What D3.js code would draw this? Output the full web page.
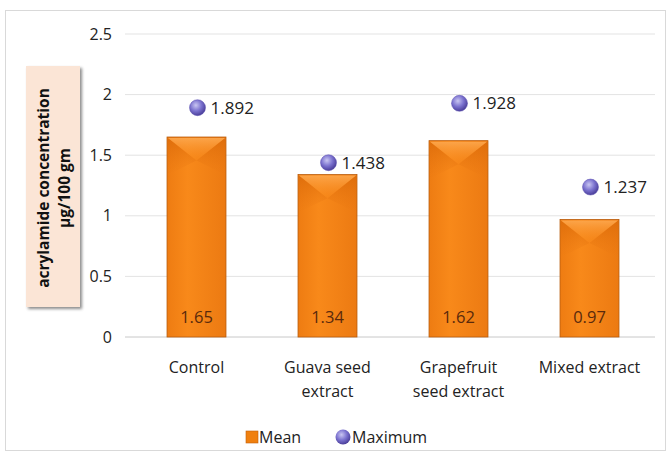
<!DOCTYPE html>
<html><head><meta charset="utf-8">
<script src="https://cdn.jsdelivr.net/npm/d3@7"></script>
<style>
body{margin:0;background:#fff;}
text{font-family:"Open Sans",sans-serif;}
</style></head>
<body><svg id="chart" width="671" height="456"></svg>
<script>
const categories = [["Control"], ["Guava seed", "extract"], ["Grapefruit", "seed extract"], ["Mixed extract"]];
const meanValues = [1.65, 1.34, 1.62, 0.97];
const maxValues = [1.892, 1.438, 1.928, 1.237];
const yTicks = [0, 0.5, 1, 1.5, 2, 2.5];
const seriesNames = ["Mean", "Maximum"];

const svg = d3.select("#chart");
const defs = svg.append("defs");

// bar fill: horizontal sheen
const g1 = defs.append("linearGradient").attr("id", "barGrad").attr("x1", 0).attr("x2", 1).attr("y1", 0).attr("y2", 0);
g1.append("stop").attr("offset", "0%").attr("stop-color", "#ee7c12");
g1.append("stop").attr("offset", "35%").attr("stop-color", "#f8891a");
g1.append("stop").attr("offset", "100%").attr("stop-color", "#ec7a12");

// bevel facets fade into the bar body
const topGrad = defs.append("linearGradient").attr("id", "topGrad").attr("x1", 0).attr("x2", 0).attr("y1", 0).attr("y2", 1);
topGrad.append("stop").attr("offset", "0%").attr("stop-color", "#fca64c").attr("stop-opacity", 0.95);
topGrad.append("stop").attr("offset", "100%").attr("stop-color", "#f8891a").attr("stop-opacity", 0.2);
const sideGrad = defs.append("linearGradient").attr("id", "sideGrad").attr("x1", 0).attr("x2", 0).attr("y1", 0).attr("y2", 1);
sideGrad.append("stop").attr("offset", "0%").attr("stop-color", "#d86808").attr("stop-opacity", 0.7);
sideGrad.append("stop").attr("offset", "100%").attr("stop-color", "#e67410").attr("stop-opacity", 0);

const rg = defs.append("radialGradient").attr("id", "dotGrad").attr("cx", "40%").attr("cy", "35%").attr("r", "65%");
rg.append("stop").attr("offset", "0%").attr("stop-color", "#c9c6f2");
rg.append("stop").attr("offset", "55%").attr("stop-color", "#7b72cf");
rg.append("stop").attr("offset", "100%").attr("stop-color", "#4b3f9a");

const sh = defs.append("filter").attr("id", "shadow").attr("x", "-20%").attr("y", "-20%").attr("width", "140%").attr("height", "140%");
sh.append("feDropShadow").attr("dx", 2).attr("dy", 2).attr("stdDeviation", 1.5).attr("flood-color", "#000").attr("flood-opacity", 0.45);

// outer frame
svg.append("rect").attr("x", 5.5).attr("y", 10.5).attr("width", 660).attr("height", 440)
  .attr("fill", "#fff").attr("stroke", "#d9d9d9");

const x = d3.scaleBand().domain(d3.range(categories.length)).range([131, 655]).paddingInner(0.55).paddingOuter(0.275);
const y = d3.scaleLinear().domain([0, 2.5]).range([337, 34]);

// gridlines
svg.append("g").selectAll("line").data(yTicks).join("line")
  .attr("x1", 125).attr("x2", 655)
  .attr("y1", d => y(d)).attr("y2", d => y(d))
  .attr("stroke", d => d === 0 ? "#c8c8c8" : "#e3e3e3").attr("stroke-width", 1);

// y axis tick labels
const yAxis = d3.axisLeft(y).tickValues(yTicks).tickSize(0).tickPadding(0).tickFormat(d3.format("~g"));
const ya = svg.append("g").attr("transform", "translate(112,0)").call(yAxis);
ya.select(".domain").remove();
ya.selectAll("text").attr("font-size", 16).attr("fill", "#222").attr("font-family", "Open Sans, sans-serif");

// bars
const bars = svg.append("g").selectAll("g").data(meanValues).join("g");
bars.append("rect")
  .attr("x", (d, i) => x(i)).attr("width", x.bandwidth())
  .attr("y", d => y(d)).attr("height", d => y(0) - y(d))
  .attr("fill", "url(#barGrad)").attr("stroke", "#b85a0a").attr("stroke-width", 0.8);
// bevelled top: light upper facet, shaded side facets
const bev = (d, i) => ({ x0: x(i), w: x.bandwidth(), t: y(d), b: x.bandwidth() * 0.4 });
bars.append("path")
  .attr("d", (d, i) => { const o = bev(d, i); return `M${o.x0 + 1},${o.t + 1}L${o.x0 + o.w / 2},${o.t + o.b}L${o.x0 + 1},${o.t + o.b * 1.6}Z`; })
  .attr("fill", "url(#sideGrad)");
bars.append("path")
  .attr("d", (d, i) => { const o = bev(d, i); return `M${o.x0 + o.w - 1},${o.t + 1}L${o.x0 + o.w / 2},${o.t + o.b}L${o.x0 + o.w - 1},${o.t + o.b * 1.6}Z`; })
  .attr("fill", "url(#sideGrad)");
bars.append("path")
  .attr("d", (d, i) => { const o = bev(d, i); return `M${o.x0 + 1},${o.t + 1}L${o.x0 + o.w - 1},${o.t + 1}L${o.x0 + o.w / 2},${o.t + o.b}Z`; })
  .attr("fill", "url(#topGrad)");
bars.append("text")
  .attr("x", (d, i) => x(i) + x.bandwidth() / 2).attr("y", y(0) - 14)
  .attr("text-anchor", "middle").attr("font-size", 16.5).attr("fill", "#5a2a0c")
  .text(d => d.toFixed(2));

// maximum markers
const dots = svg.append("g").selectAll("g").data(maxValues).join("g");
dots.append("circle")
  .attr("cx", (d, i) => x(i) + x.bandwidth() / 2 + 1).attr("cy", d => y(d))
  .attr("r", 8).attr("fill", "url(#dotGrad)").attr("stroke", "#5a4fb0").attr("stroke-width", 0.5);
dots.append("text")
  .attr("x", (d, i) => x(i) + x.bandwidth() / 2 + 14).attr("y", d => y(d) + 6)
  .attr("font-size", 17).attr("fill", "#222")
  .text(d => d.toFixed(3));

// category labels
const xl = svg.append("g").selectAll("text").data(categories).join("text")
  .attr("x", (d, i) => x(i) + x.bandwidth() / 2).attr("y", 373)
  .attr("text-anchor", "middle").attr("font-size", 16).attr("fill", "#222");
xl.selectAll("tspan").data(d => d).join("tspan")
  .attr("x", function () { return d3.select(this.parentNode).attr("x"); })
  .attr("dy", (d, j) => j === 0 ? 0 : 24).text(d => d);

// y axis title box
svg.append("rect").attr("x", 26).attr("y", 66).attr("width", 54).attr("height", 241)
  .attr("fill", "#fbe5d6").attr("filter", "url(#shadow)");
const yt = svg.append("text").attr("transform", "translate(53,188) rotate(-90)")
  .attr("text-anchor", "middle").attr("font-size", 15.5).attr("font-weight", "bold").attr("fill", "#111");
yt.append("tspan").attr("x", 0).attr("dy", -4).text("acrylamide concentration");
yt.append("tspan").attr("x", 0).attr("dy", 21).text("µg/100 gm");

// legend
const lg = svg.append("g").attr("transform", "translate(0,437)");
lg.append("rect").attr("x", 246).attr("y", -6).attr("width", 12).attr("height", 12)
  .attr("fill", "#f0800f").attr("stroke", "#c2600a").attr("stroke-width", 0.6);
lg.append("text").attr("x", 259).attr("y", 6).attr("font-size", 16).attr("fill", "#222").text(seriesNames[0]);
lg.append("circle").attr("cx", 343).attr("cy", 0).attr("r", 7.5).attr("fill", "url(#dotGrad)");
lg.append("text").attr("x", 352).attr("y", 6).attr("font-size", 16).attr("fill", "#222").text(seriesNames[1]);
</script></body></html>
